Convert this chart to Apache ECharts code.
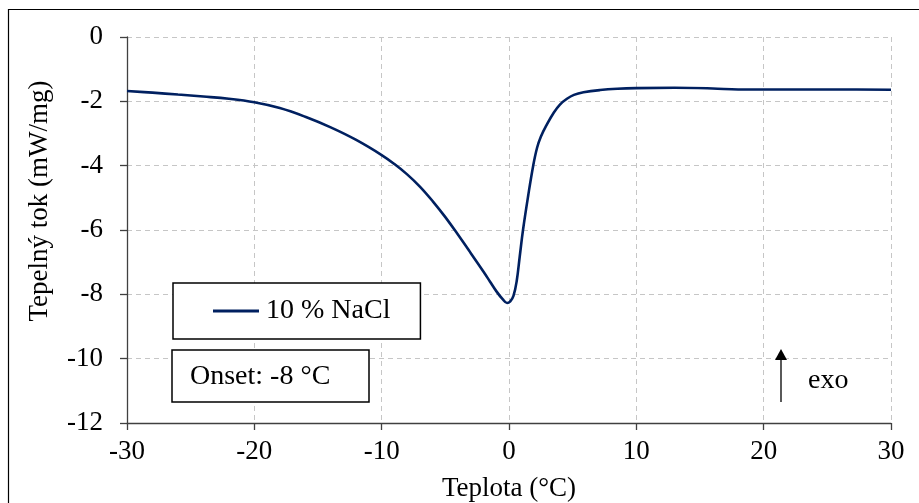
<!DOCTYPE html>
<html>
<head>
<meta charset="utf-8">
<script src="https://cdn.jsdelivr.net/npm/echarts@6/dist/echarts.min.js"></script>
<style>
html,body{margin:0;padding:0;background:#fff;}
#chart{width:919px;height:503px;}
</style>
</head>
<body>
<div id="chart"></div>
<script>
var temperature = [-30,-28,-26,-24,-22,-20,-18,-16,-14,-12,-10,-9,-8,-7,-6,-5,-4,-3,-2,-1.5,-1,-0.5,-0.15,0.1,0.35,0.6,0.85,1.1,1.5,1.9,2.2,2.5,3.0,3.5,4.0,4.55,5.1,5.85,7.15,8.5,10,13,16,18,22,26,30];
var heatFlow    = [-1.68,-1.73,-1.79,-1.85,-1.92,-2.03,-2.21,-2.48,-2.81,-3.2,-3.67,-3.95,-4.27,-4.65,-5.1,-5.6,-6.15,-6.72,-7.3,-7.6,-7.9,-8.15,-8.27,-8.22,-8.05,-7.6,-6.8,-6.0,-4.95,-4.0,-3.45,-3.1,-2.7,-2.36,-2.1,-1.92,-1.8,-1.72,-1.65,-1.61,-1.59,-1.58,-1.6,-1.63,-1.63,-1.63,-1.64];
var seriesName = '10 % NaCl';
var xTitle = 'Teplota (°C)';
var yTitle = 'Tepelný tok (mW/mg)';
var onsetText = 'Onset: -8 °C';
var exoText = 'exo';

var FONT = '"Liberation Serif", "Times New Roman", serif';
var points = temperature.map(function(t, i){ return [t, heatFlow[i]]; });

var chart = echarts.init(document.getElementById('chart'), null, {renderer:'canvas'});
chart.setOption({
  animation: false,
  backgroundColor: '#fff',
  grid: {left:127, right:28, top:37, bottom:80, containLabel:false, outerBoundsMode:'none'},
  xAxis: {
    type:'value', min:-30, max:30, interval:10,
    name: xTitle, nameLocation:'middle', nameGap:52,
    nameTextStyle:{fontFamily:FONT, fontSize:27, color:'#000'},
    axisLine:{show:true, onZero:false, lineStyle:{color:'#404040', width:1.3}},
    axisTick:{show:true, length:7, lineStyle:{color:'#404040', width:1.3}},
    axisLabel:{fontFamily:FONT, fontSize:27, color:'#000', margin:15},
    splitLine:{show:true, lineStyle:{type:[5,4], color:'#c6c6c6', width:1}}
  },
  yAxis: {
    type:'value', min:-12, max:0, interval:2,
    axisLine:{show:true, onZero:false, lineStyle:{color:'#404040', width:1.3}},
    axisTick:{show:true, length:7, lineStyle:{color:'#404040', width:1.3}},
    axisLabel:{fontFamily:FONT, fontSize:27, color:'#000', margin:24},
    splitLine:{show:true, lineStyle:{type:[5,4], color:'#c6c6c6', width:1}}
  },
  legend: {
    left:173, top:283,
    data:[{name:seriesName, icon:'rect'}],
    itemWidth:46, itemHeight:3, itemGap:0,
    padding:[14,30,14,40],
    borderColor:'#000', borderWidth:1.5, borderRadius:0,
    backgroundColor:'#fff',
    textStyle:{fontFamily:FONT, fontSize:28, color:'#000', padding:[0,0,0,2]},
    selectedMode:false
  },
  series: [{
    name: seriesName,
    type:'line',
    data: points,
    smooth: 0.4,
    showSymbol:false,
    symbol:'none',
    lineStyle:{color:'#002060', width:2.6},
    itemStyle:{color:'#002060'},
    z: 3
  }],
  graphic: [
    {type:'rect', shape:{x:8.5, y:9.5, width:1000, height:1000}, style:{fill:null, stroke:'#000', lineWidth:1.2}, silent:true, z:-10},
    {type:'text', x:40, y:201, rotation:Math.PI/2, style:{text:yTitle, font:'27px ' + FONT, fill:'#000', align:'center', verticalAlign:'middle'}},
    {type:'rect', shape:{x:172, y:350, width:197, height:52}, style:{fill:'#fff', stroke:'#000', lineWidth:1.5}, z:10},
    {type:'text', x:190, y:377, style:{text:onsetText, font:'28px ' + FONT, fill:'#000', verticalAlign:'middle'}, z:11},
    {type:'line', shape:{x1:781, y1:402, x2:781, y2:360}, style:{stroke:'#000', lineWidth:1.3}, z:10},
    {type:'polygon', shape:{points:[[781,349],[775,360],[787,360]]}, style:{fill:'#000'}, z:10},
    {type:'text', x:808, y:381, style:{text:exoText, font:'28px ' + FONT, fill:'#000', verticalAlign:'middle'}, z:11}
  ]
});
</script>
</body>
</html>
